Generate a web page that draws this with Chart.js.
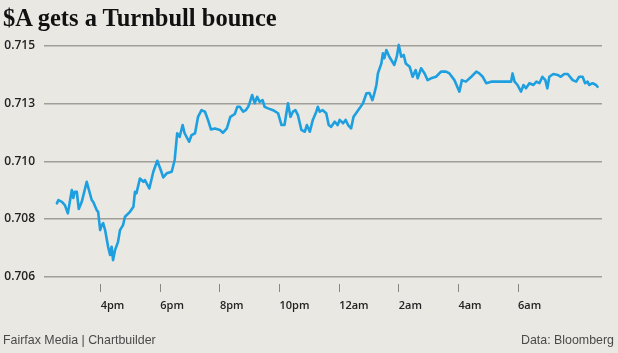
<!DOCTYPE html>
<html>
<head>
<meta charset="utf-8">
<script src="https://cdn.jsdelivr.net/npm/chart.js@4"></script>
<style>
  html, body { margin: 0; padding: 0; background: #e9e8e3; }
  #wrap { position: relative; width: 618px; height: 353px; overflow: hidden; background: #e9e8e3; }
  #c { position: absolute; left: 0; top: 0; }
  .title { position: absolute; left: 3px; top: 5.5px; font-family: "Liberation Serif", serif; font-weight: bold; font-size: 24.5px; line-height: 24.5px; color: #111; white-space: nowrap; }
  .foot { position: absolute; top: 333.5px; font-family: "Liberation Sans", sans-serif; font-size: 12.4px; line-height: 12.4px; color: #4a4a4a; white-space: nowrap; }
</style>
</head>
<body>
<div id="wrap">
  <canvas id="c" width="618" height="353"></canvas>
  <div class="title">$A gets a Turnbull bounce</div>
  <div class="foot" style="left:3px;">Fairfax Media | Chartbuilder</div>
  <div class="foot" style="right:4px;">Data: Bloomberg</div>
</div>
<script>
// Minutes elapsed since 2pm (AEST)
const minutesFrom2pm = [
  32,35,42,48,54,62,65,68,72,76,
  82,92,102,105,112,115,119,122,125,129,
  135,139,142,145,149,155,159,165,169,179,
  186,189,192,199,206,209,218,226,234,241,
  246,253,263,269,274,279,285,289,298,303,
  310,316,323,330,336,342,350,360,366,374,
  381,390,395,400,407,412,417,420,425,430,
  435,440,446,450,457,467,477,484,490,497,
  502,507,512,517,524,531,535,541,547,554,
  557,561,567,574,579,584,591,597,601,608,
  613,618,624,629,634,641,648,655,661,667,
  671,675,678,685,688,691,695,701,711,716,
  720,725,730,734,742,748,754,758,765,772,
  778,785,795,805,815,822,832,842,847,855,
  866,876,882,889,896,906,946,949,953,959,
  966,971,976,983,991,997,1003,1009,1015,1019,
  1023,1031,1040,1046,1053,1060,1070,1077,1083,1090,
  1095,1100,1103,1110,1117,1120
];
// AUD/USD
const audUsd = [
  0.70886,0.70899,0.70892,0.70879,0.70847,0.70938,0.70907,0.70931,0.70931,0.70864,
  0.70892,0.70970,0.70899,0.70892,0.70860,0.70853,0.70782,0.70801,0.70809,0.70782,
  0.70717,0.70685,0.70717,0.70665,0.70704,0.70736,0.70782,0.70801,0.70834,0.70853,
  0.70873,0.70931,0.70925,0.70983,0.70970,0.70977,0.70944,0.71009,0.71052,0.71016,
  0.70987,0.71003,0.71009,0.71055,0.71159,0.71145,0.71191,0.71159,0.71126,0.71152,
  0.71159,0.71223,0.71249,0.71243,0.71211,0.71174,0.71178,0.71172,0.71161,0.71178,
  0.71223,0.71234,0.71262,0.71262,0.71243,0.71249,0.71262,0.71278,0.71308,0.71276,
  0.71301,0.71281,0.71288,0.71262,0.71256,0.71249,0.71237,0.71191,0.71191,0.71276,
  0.71223,0.71243,0.71249,0.71230,0.71172,0.71165,0.71191,0.71165,0.71211,0.71243,
  0.71262,0.71243,0.71249,0.71237,0.71191,0.71184,0.71204,0.71191,0.71211,0.71198,
  0.71211,0.71191,0.71178,0.71223,0.71237,0.71256,0.71276,0.71315,0.71316,0.71288,
  0.71315,0.71347,0.71392,0.71431,0.71470,0.71451,0.71483,0.71457,0.71425,0.71457,
  0.71503,0.71457,0.71464,0.71431,0.71418,0.71379,0.71405,0.71373,0.71412,0.71392,
  0.71366,0.71373,0.71379,0.71399,0.71399,0.71392,0.71366,0.71321,0.71366,0.71360,
  0.71379,0.71399,0.71392,0.71379,0.71354,0.71360,0.71360,0.71392,0.71360,0.71347,
  0.71321,0.71347,0.71334,0.71354,0.71347,0.71360,0.71354,0.71379,0.71366,0.71334,
  0.71379,0.71390,0.71386,0.71379,0.71390,0.71390,0.71366,0.71360,0.71379,0.71379,
  0.71354,0.71360,0.71347,0.71354,0.71347,0.71340
];
const xTickValues = [120, 240, 360, 480, 600, 720, 840, 960];
const xTickLabels = ['4pm', '6pm', '8pm', '10pm', '12am', '2am', '4am', '6am'];
const yTickValues = [0.706, 0.70825, 0.7105, 0.71275, 0.715];
const yTickLabels = ['0.706', '0.708', '0.710', '0.713', '0.715'];

const points = minutesFrom2pm.map((t, i) => ({ x: t, y: audUsd[i] }));

new Chart(document.getElementById('c'), {
  type: 'line',
  data: {
    datasets: [{
      data: points,
      borderColor: '#1ea0e0',
      borderWidth: 2.6,
      pointRadius: 0,
      tension: 0,
      borderJoinStyle: 'round',
      borderCapStyle: 'round',
      fill: false
    }]
  },
  options: {
    responsive: false,
    animation: false,
    devicePixelRatio: 1,
    layout: { padding: { top: 38, right: 16, left: 0, bottom: 0 } },
    plugins: { legend: { display: false }, tooltip: { enabled: false }, title: { display: false } },
    scales: {
      x: {
        type: 'linear',
        min: 6,
        max: 1129,
        afterBuildTicks: (s) => { s.ticks = xTickValues.map(v => ({ value: v })); },
        afterFit: (s) => { s.height = 69; },
        border: { display: false },
        grid: { drawOnChartArea: false, drawTicks: true, tickLength: 8, color: '#8a8782', lineWidth: 1 },
        ticks: {
          autoSkip: false, maxRotation: 0, align: 'start', padding: 7,
          color: '#222',
          font: { family: 'Open Sans', size: 11, weight: '600' },
          callback: (v, i) => xTickLabels[i]
        }
      },
      y: {
        type: 'linear',
        min: 0.70572,
        max: 0.7153,
        afterBuildTicks: (s) => { s.ticks = yTickValues.map(v => ({ value: v })); },
        afterFit: (s) => { s.width = 44; },
        border: { display: false },
        grid: { drawTicks: false, color: '#a19e98', lineWidth: 1.5 },
        ticks: {
          padding: 9,
          color: '#222',
          font: { family: 'Open Sans', size: 12, weight: '600' },
          callback: (v, i) => yTickLabels[i]
        }
      }
    }
  }
});
</script>
</body>
</html>
